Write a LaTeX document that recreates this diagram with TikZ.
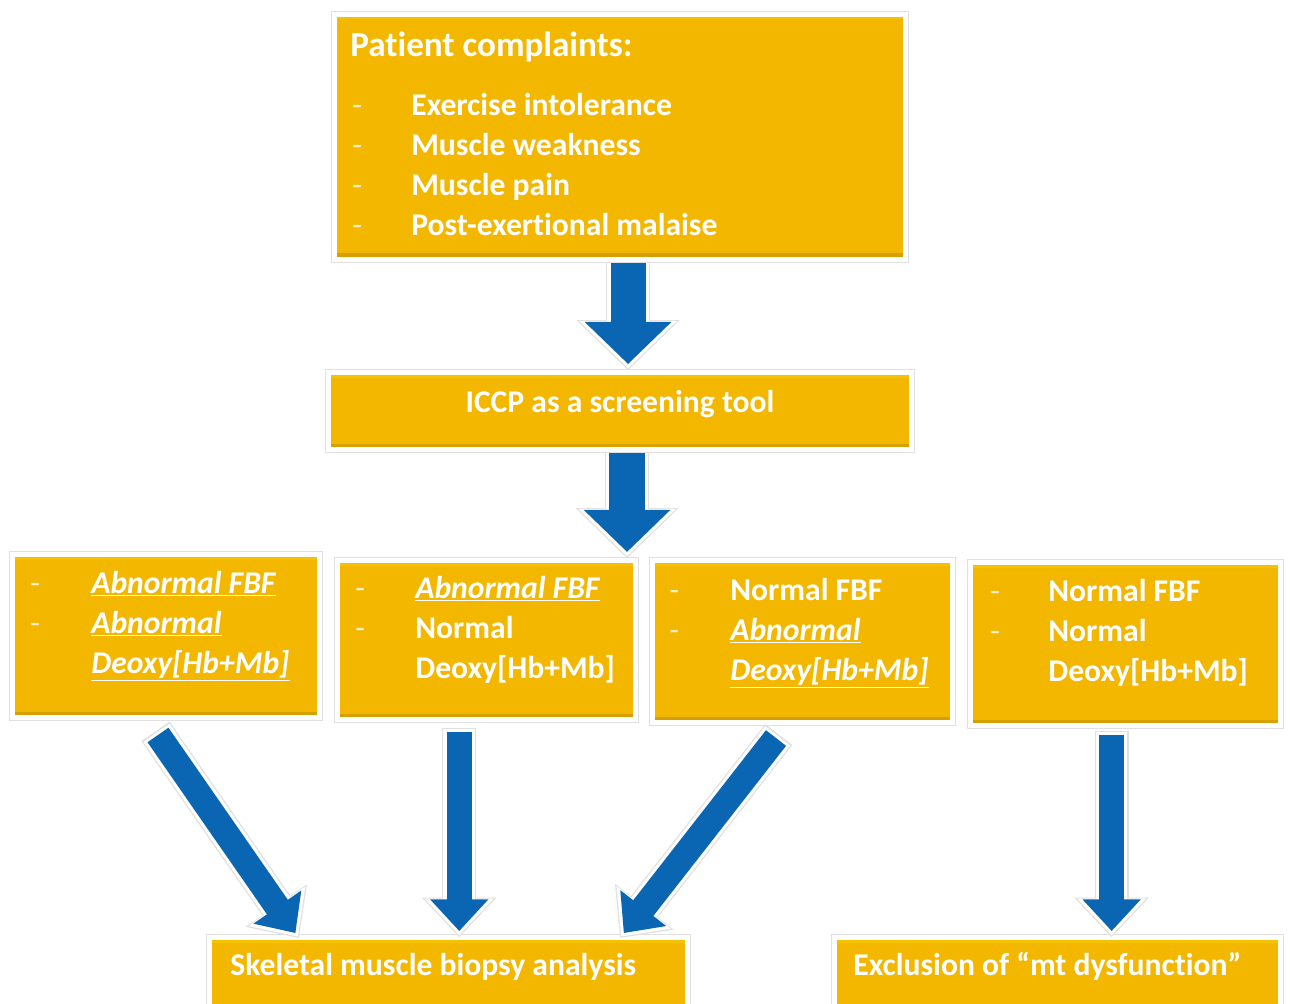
\documentclass[tikz,border=0pt]{standalone}
\usepackage{fontspec}
\setmainfont{Carlito}[Ligatures=NoCommon]
\usetikzlibrary{arrows.meta,calc,fit,shadows,backgrounds}
\definecolor{gold}{HTML}{F3B700}
\definecolor{golddark}{HTML}{D6A000}
\definecolor{barrow}{HTML}{0A66B2}
\begin{document}
\begin{tikzpicture}[x=0.02cm,y=-0.02cm,
  box/.style={inner sep=0pt, draw=white, line width=2.8pt, fill=gold,
    drop shadow={shadow xshift=1.3pt,shadow yshift=-1.3pt,opacity=0.22},
    preaction={draw=black!12, line width=4.4pt},
    path picture={\fill[golddark] (path picture bounding box.south west)
      rectangle ($(path picture bounding box.south east)+(0,-6)$);
      \fill[gold!85!yellow] (path picture bounding box.north west)
      rectangle ($(path picture bounding box.north east)+(0,5)$);}},
  txt/.style={anchor=base west, inner sep=0pt, text=white,
    font=\fontsize{18}{21}\selectfont\bfseries},
  hdr/.style={anchor=base west, inner sep=0pt, text=white,
    font=\fontsize{20}{23}\selectfont\bfseries},
  dsh/.style={anchor=base west, inner sep=0pt, text=white!80!gold,
    font=\fontsize{18}{21}\selectfont},
  bigarrow/.style={draw=barrow, line width=20pt,
    -{Triangle[length=24pt,width=48pt]},
    preaction={draw=black!12, line width=25pt,
      -{Triangle[length=28.5pt,width=57pt]}, shorten >=-3.5pt},
    preaction={draw=white, line width=23.5pt,
      -{Triangle[length=27pt,width=54pt]}, shorten >=-2.5pt}},
  smallarrow/.style={draw=barrow, line width=14.5pt,
    -{Triangle[length=18pt,width=32pt]},
    preaction={draw=black!12, line width=19.5pt,
      -{Triangle[length=22.5pt,width=41pt]}, shorten >=-3.5pt, shorten <=-2.5pt},
    preaction={draw=white, line width=18pt,
      -{Triangle[length=21pt,width=38pt]}, shorten >=-2.5pt, shorten <=-1.5pt}}
]
\path[use as bounding box] (0,0) rectangle (1290,1003);
\clip (0,0) rectangle (1290,1003);

% boxes
\node[box, fit={(334.5,14.5)(905.5,259.5)}] (top) {};
\node[box, fit={(328.5,372.5)(911.5,449.5)}] (iccp) {};
\node[box, fit={(12.5,554.5)(319.5,717.5)}] (b1) {};
\node[box, fit={(337.5,560.5)(635.5,719.5)}] (b2) {};
\node[box, fit={(652.5,560.5)(952.5,722.5)}] (b3) {};
\node[box, fit={(970.5,562.5)(1280.5,725.5)}] (b4) {};
\node[box, fit={(209.5,937.5)(687.5,1012)}] (bot1) {};
\node[box, fit={(834.5,937.5)(1280.5,1012)}] (bot2) {};

% arrow end points
\coordinate (a1s) at ($(top.south west)!0.514!(top.south east)+(0,-4)$);
\coordinate (a1e) at ($(a1s |- iccp.north)+(0,-6)$);
\coordinate (a2s) at ($(iccp.south west)!0.512!(iccp.south east)+(0,-4)$);
\coordinate (a2e) at ($(a2s)+(0,104)$);
\coordinate (a3s) at (158,735);
\coordinate (a3e) at ($(bot1.north west)!0.183!(bot1.north east)+(0,-2)$);
\coordinate (a4s) at ($(b2.south west)!0.41!(b2.south east)+(0,10)$);
\coordinate (a4e) at ($(a4s |- bot1.north)+(0,-4)$);
\coordinate (a5s) at (776,738);
\coordinate (a5e) at ($(bot1.north west)!0.863!(bot1.north east)+(0,-2)$);
\coordinate (a6s) at ($(b4.south west)!0.456!(b4.south east)+(0,7)$);
\coordinate (a6e) at ($(a6s |- bot2.north)+(0,-4)$);

\begin{pgfonlayer}{background}
\draw[bigarrow] (a1s) -- (a1e);
\draw[bigarrow] (a2s) -- (a2e);
\end{pgfonlayer}
\draw[smallarrow] (a3s) -- (a3e);
\draw[smallarrow] (a4s) -- (a4e);
\draw[smallarrow] (a5s) -- (a5e);
\draw[smallarrow] (a6s) -- (a6e);

% top box text
\node[hdr] (t0) at (350,57) {Patient complaints:};
\node[dsh] (d01) at (352,116) {-};
\node[dsh] (d02) at (352,156) {-};
\node[dsh] (d03) at (352,196) {-};
\node[dsh] (d04) at (352,236) {-};
\node[txt] (t01) at (411,116) {Exercise intolerance};
\node[txt] (t02) at (411,156) {Muscle weakness};
\node[txt] (t03) at (411,196) {Muscle pain};
\node[txt] (t04) at (411,236) {Post-exertional malaise};

% ICCP
\node[txt, anchor=base] (ti) at (620,412) {ICCP as a screening tool};

% box 1
\node[dsh] (d11) at (30,593) {-};
\node[dsh] (d12) at (30,633) {-};
\node[txt] (t11) at (91,593) {\underline{\textit{Abnormal FBF}}};
\node[txt] (t12) at (91,633) {\underline{\textit{Abnormal}}};
\node[txt] (t13) at (91,673) {\underline{\textit{Deoxy[Hb+Mb]}}};

% box 2
\node[dsh] (d21) at (355,598) {-};
\node[dsh] (d22) at (355,638) {-};
\node[txt] (t21) at (415,598) {\underline{\textit{Abnormal FBF}}};
\node[txt] (t22) at (415,638) {Normal};
\node[txt] (t23) at (415,678) {Deoxy[Hb+Mb]};

% box 3
\node[dsh] (d31) at (669,600) {-};
\node[dsh] (d32) at (669,640) {-};
\node[txt] (t31) at (730,600) {Normal FBF};
\node[txt] (t32) at (730,640) {\underline{\textit{Abnormal}}};
\node[txt] (t33) at (730,680) {\underline{\textit{Deoxy[Hb+Mb]}}};

% box 4
\node[dsh] (d41) at (990,601) {-};
\node[dsh] (d42) at (990,641) {-};
\node[txt] (t41) at (1048,601) {Normal FBF};
\node[txt] (t42) at (1048,641) {Normal};
\node[txt] (t43) at (1048,681) {Deoxy[Hb+Mb]};

% bottom boxes
\node[txt] (tb1) at (230,975) {Skeletal muscle biopsy analysis};
\node[txt] (tb2) at (853,975) {Exclusion of “mt dysfunction”};
\end{tikzpicture}
\end{document}
